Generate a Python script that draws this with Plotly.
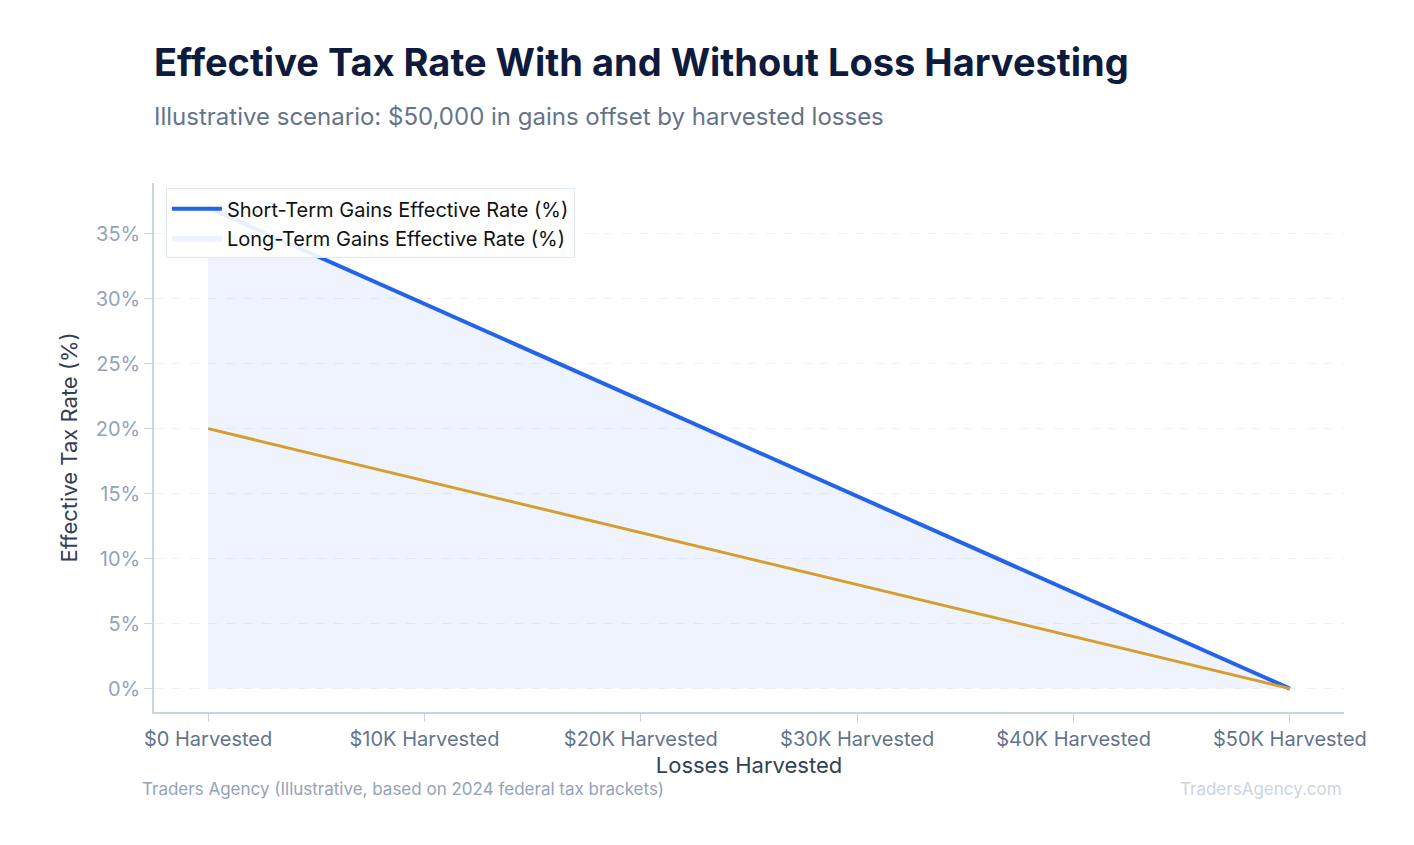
import plotly.graph_objects as go

categories = ["$0 Harvested", "$10K Harvested", "$20K Harvested", "$30K Harvested", "$40K Harvested", "$50K Harvested"]
short_term = [37, 29.6, 22.2, 14.8, 7.4, 0]
long_term = [20, 16, 12, 8, 4, 0]
y_ticks = [0, 5, 10, 15, 20, 25, 30, 35]

fig = go.Figure()
fig.add_trace(go.Scatter(x=categories, y=short_term, mode="lines", fill="tozeroy",
                         fillcolor="rgba(37,99,235,0.08)", line=dict(width=0),
                         name="Long-Term Gains Effective Rate (%)", legendrank=2))
fig.add_trace(go.Scatter(x=categories, y=short_term, mode="lines",
                         line=dict(color="#2563eb", width=4),
                         name="Short-Term Gains Effective Rate (%)", legendrank=1))
fig.add_trace(go.Scatter(x=categories, y=long_term, mode="lines",
                         line=dict(color="#d69e2e", width=3), showlegend=False))

fig.update_layout(
    width=1414, height=845, plot_bgcolor="white", paper_bgcolor="white",
    font=dict(family="Inter", color="#64748b"),
    margin=dict(l=146, r=78, t=175, b=141, autoexpand=False),
    title=dict(text="<b>Effective Tax Rate With and Without Loss Harvesting</b><br><span style='font-size:24px;color:#64748b'>Illustrative scenario: $50,000 in gains offset by harvested losses</span>",
               x=146/1414, xanchor="left", y=0.92, yanchor="top",
               font=dict(size=38, color="#0f1b3d")),
    legend=dict(x=0.01, y=0.99, xanchor="left", yanchor="top", bgcolor="rgba(255,255,255,0.9)",
                bordercolor="#e2e8f0", borderwidth=1, font=dict(size=20, color="#111"),
                tracegroupgap=6, itemwidth=50),
    showlegend=True,
)
fig.update_xaxes(range=[-0.25, 5.25], showline=True, linecolor="#cbd5e1", linewidth=1.5,
                 ticks="outside", tickcolor="#cbd5e1", ticklen=8, showgrid=False,
                 tickfont=dict(size=20, color="#64748b"),
                 title=dict(text="Losses Harvested", font=dict(size=22, color="#334155"), standoff=8))
fig.update_yaxes(range=[-1.8, 38.9], showline=True, linecolor="#cbd5e1", linewidth=1.5,
                 tickvals=y_ticks, ticktext=[f"{v}%" for v in y_ticks], ticks="outside",
                 tickcolor="#cbd5e1", ticklen=8, zeroline=False,
                 gridcolor="#eef2f7", griddash="dash", tickfont=dict(size=20, color="#94a3b8"),
                 title=dict(text="Effective Tax Rate (%)", font=dict(size=22, color="#334155"), standoff=12))
fig.add_annotation(text="Traders Agency (Illustrative, based on 2024 federal tax brackets)",
                   xref="paper", yref="paper", x=-0.012, y=-0.145, xanchor="left", yanchor="middle",
                   showarrow=False, font=dict(size=17, color="#94a3b8"))
fig.add_annotation(text="TradersAgency.com", xref="paper", yref="paper", x=1, y=-0.145,
                   xanchor="right", yanchor="middle", showarrow=False,
                   font=dict(size=17, color="#cbd5e1"))
fig.write_html("out.html")
